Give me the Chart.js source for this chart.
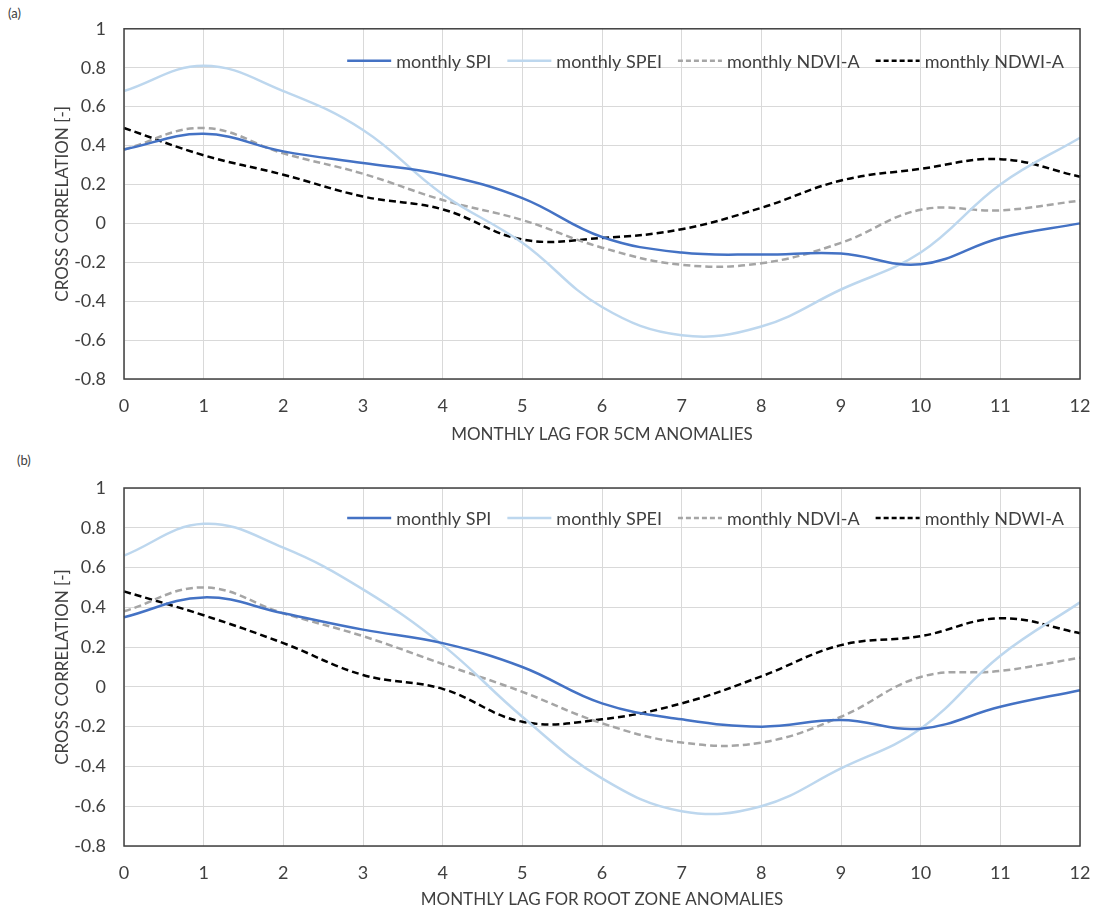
<!DOCTYPE html>
<html>
<head>
<meta charset="utf-8">
<script src="https://cdn.jsdelivr.net/npm/chart.js@4.4.1/dist/chart.umd.min.js"></script>
<style>
  body { margin: 0; background: #fff; width: 1096px; height: 915px; position: relative; overflow: hidden; font-family: Lato, sans-serif; }
  .box { position: absolute; left: 0; width: 1096px; }
  .tag { position: absolute; font-size: 13px; color: #404040; }
</style>
</head>
<body>
<div class="tag" style="left:8px; top:5px;">(a)</div>
<div class="tag" style="left:17px; top:452px;">(b)</div>
<div class="box" style="top:0; height:450px;"><canvas id="chartA"></canvas></div>
<div class="box" style="top:450px; height:465px;"><canvas id="chartB"></canvas></div>
<script>
const lags = ['0','1','2','3','4','5','6','7','8','9','10','11','12'];
const seriesNames = ['monthly SPI', 'monthly SPEI', 'monthly NDVI-A', 'monthly NDWI-A'];

// (a) 5cm anomalies
const spiA  = [0.38, 0.46, 0.37, 0.31, 0.25, 0.13, -0.07, -0.15, -0.16, -0.155, -0.21, -0.075, 0.00];
const speiA = [0.68, 0.81, 0.68, 0.48, 0.15, -0.10, -0.43, -0.575, -0.53, -0.34, -0.15, 0.20, 0.44];
const ndviA = [0.38, 0.49, 0.36, 0.255, 0.12, 0.017, -0.125, -0.213, -0.205, -0.10, 0.07, 0.067, 0.117];
const ndwiA = [0.49, 0.35, 0.25, 0.138, 0.072, -0.083, -0.075, -0.03, 0.08, 0.22, 0.28, 0.33, 0.24];

// (b) root zone anomalies
const spiB  = [0.35, 0.45, 0.37, 0.288, 0.22, 0.10, -0.083, -0.163, -0.20, -0.167, -0.21, -0.10, -0.017];
const speiB = [0.66, 0.82, 0.70, 0.49, 0.21, -0.15, -0.46, -0.625, -0.60, -0.41, -0.21, 0.157, 0.425];
const ndviB = [0.38, 0.50, 0.37, 0.255, 0.115, -0.025, -0.183, -0.28, -0.28, -0.15, 0.05, 0.08, 0.147];
const ndwiB = [0.48, 0.36, 0.22, 0.06, -0.01, -0.175, -0.163, -0.083, 0.053, 0.21, 0.255, 0.345, 0.27];

const yTicks = [-0.8, -0.6, -0.4, -0.2, 0, 0.2, 0.4, 0.6, 0.8, 1];

const textColor = '#404040';
const gridColor = '#D9D9D9';

// dark frame around the plot area
const frame = {
  id: 'frame',
  afterDatasetsDraw(chart) {
    const a = chart.chartArea;
    const ctx = chart.ctx;
    ctx.save();
    ctx.strokeStyle = '#404040';
    ctx.lineWidth = 1.5;
    ctx.strokeRect(a.left, a.top, a.right - a.left, a.bottom - a.top);
    ctx.restore();
  }
};

// one-row legend inside the plot, right aligned like the Excel one
const innerLegend = {
  id: 'innerLegend',
  afterDraw(chart, args, opts) {
    const ctx = chart.ctx;
    const a = chart.chartArea;
    const sets = chart.data.datasets;
    const lineW = 44, gapText = 5, gapItem = 16;
    ctx.save();
    ctx.font = '18px Lato';
    const widths = sets.map(d => lineW + gapText + ctx.measureText(d.label).width);
    const total = widths.reduce((s, w) => s + w, 0) + gapItem * (sets.length - 1);
    let x = a.right - 16 - total;
    const y = a.top + opts.offsetY;
    sets.forEach((d, i) => {
      ctx.strokeStyle = d.borderColor;
      ctx.lineWidth = d.borderWidth;
      ctx.setLineDash(d.borderDash.length ? [5, 3] : []);
      ctx.beginPath();
      ctx.moveTo(x, y);
      ctx.lineTo(x + lineW, y);
      ctx.stroke();
      ctx.setLineDash([]);
      ctx.fillStyle = textColor;
      ctx.textBaseline = 'middle';
      ctx.textAlign = 'left';
      ctx.fillText(d.label, x + lineW + gapText, y + 1);
      x += widths[i] + gapItem;
    });
    ctx.restore();
  }
};

function makeChart(id, vals, xTitle, topPad, xHeight, legendY) {
  const styles = [
    { borderColor: '#4472C4', borderDash: [] },
    { borderColor: '#BDD7EE', borderDash: [] },
    { borderColor: '#A5A5A5', borderDash: [7, 4] },
    { borderColor: '#000000', borderDash: [7, 4] }
  ];
  return new Chart(document.getElementById(id), {
    type: 'line',
    data: {
      labels: lags,
      datasets: vals.map((v, i) => ({
        label: seriesNames[i],
        data: v,
        borderColor: styles[i].borderColor,
        backgroundColor: styles[i].borderColor,
        borderDash: styles[i].borderDash,
        borderWidth: 2.5,
        pointRadius: 0,
        tension: 0.4,
        fill: false
      }))
    },
    options: {
      responsive: true,
      maintainAspectRatio: false,
      animation: false,
      layout: { padding: { top: topPad, right: 16, left: 0, bottom: 0 } },
      plugins: {
        tooltip: { enabled: false },
        legend: { display: false },
        innerLegend: { offsetY: legendY }
      },
      scales: {
        x: {
          type: 'category',
          offset: false,
          grid: { color: gridColor, drawTicks: false },
          border: { display: false },
          ticks: { color: textColor, font: { family: 'Lato', size: 18 }, padding: 16, maxRotation: 0, autoSkip: false },
          title: { display: true, text: xTitle, color: textColor, font: { family: 'Lato', size: 17 }, padding: { top: 0, bottom: 5 } },
          afterFit(s) { s.height = xHeight; s.paddingRight = 0; s.paddingLeft = 0; }
        },
        y: {
          min: yTicks[0],
          max: yTicks[yTicks.length - 1],
          afterBuildTicks(s) { s.ticks = yTicks.map(v => ({ value: v })); },
          grid: { color: gridColor, drawTicks: false },
          border: { display: false },
          ticks: {
            color: textColor,
            font: { family: 'Lato', size: 18 },
            padding: 18,
            callback: v => String(Number(v.toFixed(1)))
          },
          title: { display: true, text: 'CROSS CORRELATION [-]', color: textColor, font: { family: 'Lato', size: 17 }, padding: { top: 52, bottom: 0 } },
          afterFit(s) { s.width = 124; }
        }
      }
    },
    plugins: [frame, innerLegend]
  });
}

makeChart('chartA', [spiA, speiA, ndviA, ndwiA], 'MONTHLY LAG FOR 5CM ANOMALIES', 20, 71, 32);
makeChart('chartB', [spiB, speiB, ndviB, ndwiB], 'MONTHLY LAG FOR ROOT ZONE ANOMALIES', 38, 69, 30);
</script>
</body>
</html>
